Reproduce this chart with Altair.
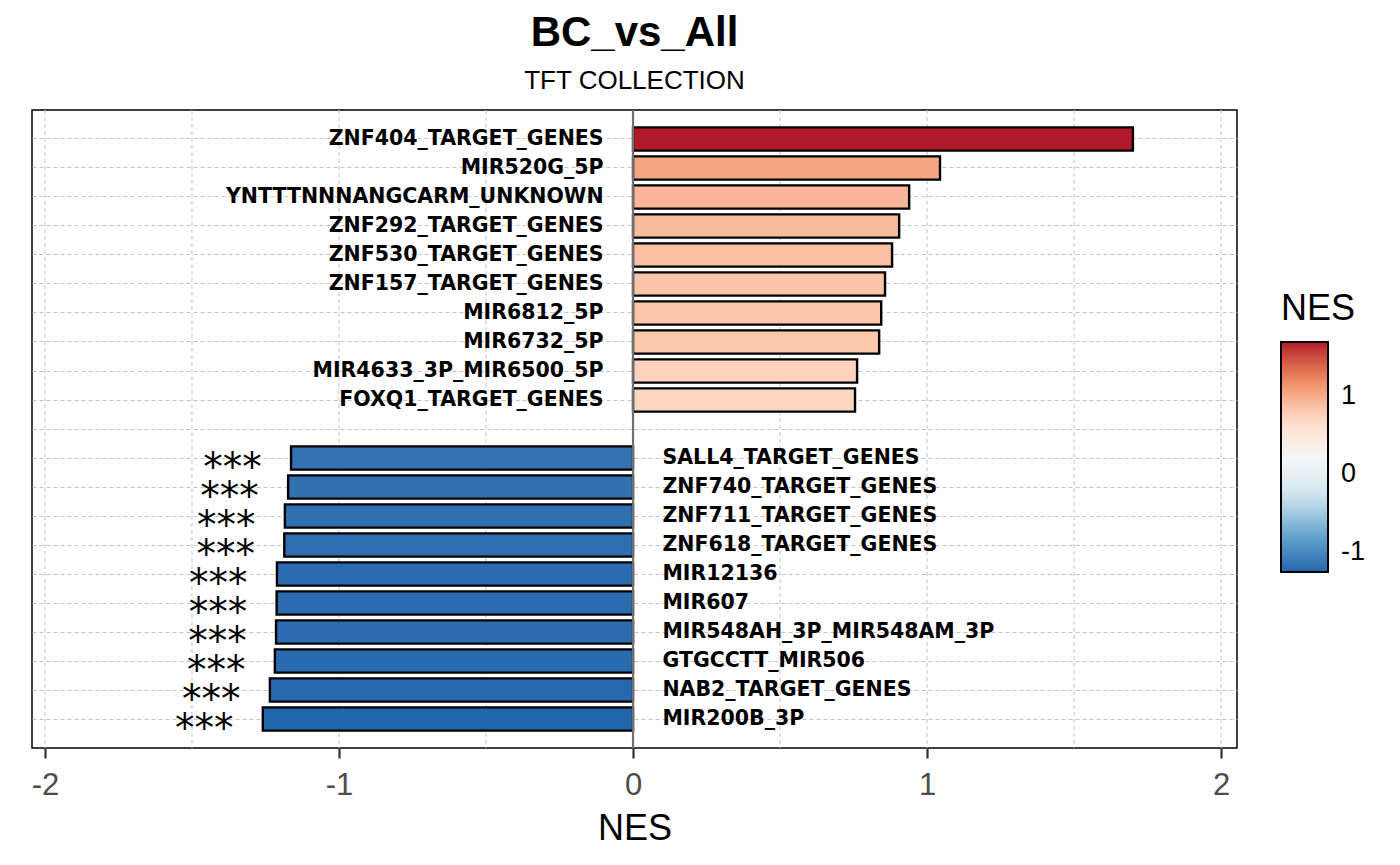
import altair as alt
import pandas as pd

# ---- data ----
terms = [
    "ZNF404_TARGET_GENES", "MIR520G_5P", "YNTTTNNNANGCARM_UNKNOWN",
    "ZNF292_TARGET_GENES", "ZNF530_TARGET_GENES", "ZNF157_TARGET_GENES",
    "MIR6812_5P", "MIR6732_5P", "MIR4633_3P_MIR6500_5P", "FOXQ1_TARGET_GENES",
    "SALL4_TARGET_GENES", "ZNF740_TARGET_GENES", "ZNF711_TARGET_GENES",
    "ZNF618_TARGET_GENES", "MIR12136", "MIR607", "MIR548AH_3P_MIR548AM_3P",
    "GTGCCTT_MIR506", "NAB2_TARGET_GENES", "MIR200B_3P",
]
nes = [
    1.70, 1.044, 0.939, 0.905, 0.881, 0.857, 0.844, 0.837, 0.762, 0.755,
    -1.163, -1.173, -1.184, -1.186, -1.211, -1.212, -1.214, -1.218, -1.235, -1.259,
]
sig = [""] * 10 + ["***"] * 10
blank_slot = " "
row_order = terms[:10] + [blank_slot] + terms[10:]
grid_x = [-2, -1.5, -1, -0.5, 0, 0.5, 1, 1.5, 2]
x_ticks = [-2, -1, 0, 1, 2]
legend_ticks = [-1, 0, 1]
palette = ["#2166ac", "#67a9cf", "#d1e5f0", "#f7f7f7",
           "#fddbc7", "#ef8a62", "#b2182b"]

df = pd.DataFrame({"term": terms, "NES": nes, "sig": sig})
dmin, dmax = min(nes), max(nes)
n_stops = len(palette)
color_domain = [dmin + i * (dmax - dmin) / (n_stops - 1) for i in range(n_stops)]

x_scale = alt.Scale(domain=[-2.044, 2.054], nice=False, zero=False)
y_scale = alt.Scale(domain=row_order, paddingInner=0.2, paddingOuter=0.6)

x_axis = alt.Axis(values=x_ticks, grid=False, domain=False,
                  labelExpr="toString(datum.value)",
                  labelFontSize=31, labelColor="#4d4d4d",
                  labelFont="Liberation Sans", labelPadding=12,
                  tickColor="#333333", tickSize=10, tickWidth=2.2,
                  title="NES", titleFontSize=36,
                  titleFontWeight="normal", titleFont="Liberation Sans",
                  titleColor="black", titlePadding=11)
y_axis = alt.Axis(title=None, labels=False, ticks=False, domain=False,
                  grid=True, gridColor="#c4c4c4", gridDash=[4, 3],
                  gridWidth=1, bandPosition=0.5)

base = alt.Chart(df)

grid = alt.Chart(pd.DataFrame({"g": grid_x})).mark_rule(
    color="#c4c4c4", strokeDash=[4, 3], strokeWidth=1
).encode(x=alt.X("g:Q", scale=x_scale, axis=x_axis))

bars = base.mark_bar(stroke="black", strokeWidth=2.4).encode(
    x=alt.X("NES:Q", scale=x_scale, axis=x_axis),
    x2=alt.datum(0),
    y=alt.Y("term:N", scale=y_scale, axis=y_axis),
    color=alt.Color("NES:Q",
                    scale=alt.Scale(domain=color_domain, range=palette,
                                    interpolate="lab"),
                    legend=alt.Legend(
                        title="NES", values=legend_ticks, orient="none",
                        legendX=1249, legendY=182, direction="vertical",
                        labelExpr="toString(datum.value)",
                        gradientLength=230, gradientThickness=47,
                        gradientStrokeColor="black", gradientStrokeWidth=2,
                        labelFontSize=27, labelFont="Liberation Sans",
                        labelColor="black", labelOffset=13,
                        titleFontSize=36, titleFontWeight="normal",
                        titleFont="Liberation Sans", titleColor="black",
                        titlePadding=14)),
)

zero = alt.Chart(pd.DataFrame({"z": [0]})).mark_rule(
    color="#707070", strokeWidth=2.2
).encode(x=alt.X("z:Q", scale=x_scale, axis=x_axis))

labels_pos = base.transform_filter("datum.NES > 0").transform_calculate(
    lx="-0.1"
).mark_text(align="right", baseline="middle", font="DejaVu Sans",
            fontWeight="bold", fontSize=20.5, color="black").encode(
    x=alt.X("lx:Q", scale=x_scale, axis=x_axis),
    y=alt.Y("term:N", scale=y_scale, axis=y_axis),
    text="term:N",
)

labels_neg = base.transform_filter("datum.NES < 0").transform_calculate(
    lx="0.1"
).mark_text(align="left", baseline="middle", font="DejaVu Sans",
            fontWeight="bold", fontSize=20.5, color="black").encode(
    x=alt.X("lx:Q", scale=x_scale, axis=x_axis),
    y=alt.Y("term:N", scale=y_scale, axis=y_axis),
    text="term:N",
)

stars = base.transform_filter("datum.sig != ''").transform_calculate(
    sx="datum.NES - 0.1"
).mark_text(align="right", baseline="middle", font="DejaVu Sans",
            fontSize=39, color="black", dy=10).encode(
    x=alt.X("sx:Q", scale=x_scale, axis=x_axis),
    y=alt.Y("term:N", scale=y_scale, axis=y_axis),
    text="sig:N",
)

chart = alt.layer(grid, bars, zero, labels_pos, labels_neg, stars).properties(
    width=1205, height=638,
    autosize=alt.AutoSizeParams(type="none"),
    padding={"left": 24, "top": 102, "right": 150, "bottom": 100},
    title=alt.TitleParams(
        "BC_vs_All", subtitle="TFT COLLECTION", anchor="middle",
        font="Liberation Sans", fontSize=42, fontWeight="bold", color="black",
        subtitleFont="Liberation Sans", subtitleFontSize=26,
        subtitleColor="black", subtitlePadding=13, offset=14),
).configure_view(stroke="black", strokeWidth=1.5)

chart.save("out.html", embed_options={"renderer": "svg", "actions": False})
